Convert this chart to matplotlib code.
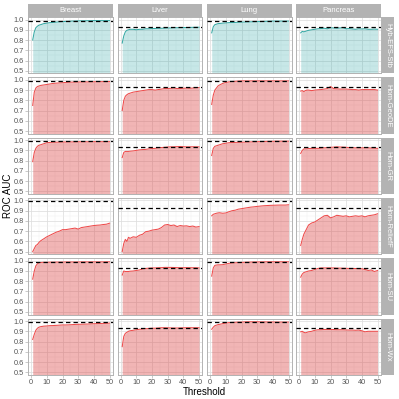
import matplotlib
matplotlib.use("Agg")
import matplotlib.pyplot as plt
import numpy as np

plt.rcParams['font.family'] = ['Liberation Sans', 'DejaVu Sans']

cancers = ["Breast", "Liver", "Lung", "Pancreas"]
methods = ["Hyb-EFS-Stb", "Hom-GeoDE", "Hom-GR", "Hom-ReliefF", "Hom-SU", "Hom-Wx"]
reference = [0.99, 0.93, 0.99, 0.93]

threshold = [1, 2, 3, 4, 5, 6, 8, 10, 12, 14, 16, 18, 20, 22, 24, 26, 28, 30, 32, 34, 36, 38, 40, 42, 44, 46, 48, 50]

# Breast
breast_efs = [0.80,0.88,0.92,0.935,0.945,0.95,0.96,0.965,0.97,0.972,0.975,0.978,0.98,0.982,0.983,0.985,0.986,0.987,0.988,0.988,0.989,0.989,0.99,0.99,0.99,0.99,0.99,0.99]
breast_geode = [0.75,0.88,0.92,0.935,0.94,0.945,0.95,0.955,0.96,0.965,0.968,0.97,0.972,0.975,0.977,0.978,0.978,0.979,0.98,0.98,0.98,0.981,0.981,0.982,0.982,0.983,0.983,0.984]
breast_gr = [0.79,0.88,0.92,0.94,0.95,0.955,0.965,0.975,0.978,0.98,0.98,0.981,0.982,0.982,0.983,0.983,0.983,0.984,0.984,0.984,0.984,0.985,0.985,0.985,0.985,0.985,0.985,0.985]
breast_relieff = [0.50,0.53,0.56,0.57,0.59,0.605,0.625,0.645,0.66,0.675,0.69,0.70,0.715,0.715,0.72,0.725,0.73,0.72,0.735,0.74,0.745,0.75,0.755,0.758,0.76,0.765,0.768,0.778]
breast_su = [0.82,0.90,0.95,0.97,0.98,0.983,0.985,0.985,0.986,0.986,0.987,0.987,0.987,0.988,0.988,0.988,0.988,0.988,0.989,0.989,0.989,0.989,0.989,0.989,0.989,0.989,0.99,0.99]
breast_wx = [0.82,0.87,0.91,0.93,0.94,0.945,0.95,0.952,0.955,0.956,0.958,0.96,0.962,0.962,0.963,0.965,0.967,0.968,0.969,0.97,0.971,0.972,0.974,0.975,0.976,0.977,0.978,0.98]

# Liver
liver_efs = [0.77,0.84,0.88,0.895,0.90,0.905,0.905,0.90,0.905,0.905,0.91,0.91,0.912,0.913,0.915,0.915,0.916,0.918,0.918,0.92,0.92,0.921,0.922,0.922,0.923,0.924,0.925,0.925]
liver_geode = [0.70,0.80,0.84,0.855,0.865,0.87,0.88,0.885,0.89,0.895,0.90,0.905,0.905,0.90,0.905,0.91,0.915,0.915,0.918,0.92,0.915,0.915,0.918,0.92,0.918,0.92,0.922,0.925]
liver_gr = [0.83,0.88,0.89,0.89,0.89,0.892,0.895,0.90,0.905,0.908,0.91,0.915,0.918,0.92,0.925,0.928,0.93,0.933,0.935,0.935,0.937,0.938,0.936,0.935,0.935,0.936,0.935,0.935]
liver_relieff = [0.50,0.58,0.62,0.60,0.64,0.63,0.645,0.64,0.66,0.67,0.695,0.70,0.71,0.715,0.72,0.735,0.76,0.765,0.755,0.76,0.745,0.755,0.75,0.752,0.745,0.75,0.74,0.745]
liver_su = [0.86,0.90,0.895,0.895,0.895,0.898,0.90,0.905,0.91,0.92,0.925,0.928,0.93,0.93,0.932,0.933,0.935,0.935,0.935,0.934,0.933,0.932,0.932,0.933,0.932,0.932,0.932,0.93]
liver_wx = [0.75,0.85,0.88,0.89,0.90,0.905,0.91,0.915,0.92,0.922,0.925,0.927,0.93,0.93,0.932,0.935,0.935,0.934,0.933,0.932,0.932,0.933,0.934,0.935,0.935,0.935,0.935,0.935]

# Lung
lung_efs = [0.87,0.93,0.95,0.955,0.96,0.962,0.965,0.967,0.97,0.971,0.972,0.974,0.975,0.976,0.977,0.978,0.979,0.98,0.981,0.982,0.983,0.984,0.985,0.985,0.985,0.985,0.985,0.985]
lung_geode = [0.76,0.85,0.90,0.92,0.94,0.95,0.965,0.975,0.98,0.984,0.986,0.988,0.99,0.99,0.99,0.99,0.99,0.99,0.99,0.99,0.99,0.99,0.99,0.99,0.99,0.99,0.99,0.99]
lung_gr = [0.85,0.92,0.94,0.945,0.95,0.955,0.965,0.97,0.975,0.977,0.978,0.979,0.98,0.981,0.982,0.983,0.984,0.985,0.986,0.987,0.988,0.988,0.989,0.99,0.99,0.99,0.99,0.99]
lung_relieff = [0.85,0.865,0.87,0.875,0.878,0.88,0.875,0.878,0.89,0.90,0.905,0.915,0.92,0.925,0.93,0.935,0.938,0.942,0.945,0.948,0.95,0.952,0.953,0.954,0.955,0.955,0.955,0.958]
lung_su = [0.85,0.93,0.955,0.958,0.96,0.96,0.962,0.968,0.975,0.978,0.98,0.982,0.984,0.985,0.986,0.987,0.988,0.988,0.989,0.989,0.99,0.99,0.99,0.99,0.99,0.99,0.99,0.99]
lung_wx = [0.92,0.94,0.955,0.96,0.965,0.968,0.975,0.98,0.985,0.987,0.988,0.99,0.99,0.992,0.993,0.993,0.993,0.993,0.992,0.992,0.991,0.991,0.991,0.99,0.99,0.99,0.99,0.99]

# Pancreas
pancreas_efs = [0.87,0.885,0.88,0.885,0.89,0.895,0.90,0.905,0.91,0.912,0.915,0.91,0.92,0.918,0.915,0.918,0.92,0.91,0.912,0.908,0.905,0.91,0.908,0.91,0.905,0.905,0.907,0.905]
pancreas_geode = [0.89,0.895,0.885,0.895,0.90,0.90,0.895,0.90,0.903,0.905,0.91,0.915,0.935,0.915,0.912,0.91,0.91,0.91,0.908,0.905,0.905,0.90,0.905,0.905,0.905,0.905,0.905,0.90]
pancreas_gr = [0.87,0.90,0.915,0.915,0.915,0.918,0.92,0.92,0.92,0.922,0.925,0.927,0.93,0.932,0.935,0.933,0.932,0.93,0.928,0.926,0.925,0.925,0.925,0.925,0.925,0.923,0.922,0.92]
pancreas_relieff = [0.56,0.62,0.67,0.70,0.73,0.76,0.78,0.79,0.81,0.83,0.85,0.855,0.83,0.84,0.855,0.85,0.845,0.85,0.84,0.845,0.85,0.845,0.85,0.84,0.85,0.855,0.86,0.87]
pancreas_su = [0.84,0.87,0.885,0.89,0.895,0.90,0.905,0.915,0.925,0.93,0.93,0.93,0.93,0.93,0.928,0.928,0.927,0.926,0.925,0.925,0.924,0.923,0.922,0.915,0.905,0.91,0.895,0.905]
pancreas_wx = [0.895,0.90,0.89,0.885,0.89,0.895,0.90,0.91,0.915,0.915,0.918,0.918,0.918,0.917,0.915,0.915,0.915,0.913,0.912,0.912,0.91,0.912,0.905,0.895,0.90,0.90,0.90,0.90]

series = {
    "Breast": [breast_efs, breast_geode, breast_gr, breast_relieff, breast_su, breast_wx],
    "Liver": [liver_efs, liver_geode, liver_gr, liver_relieff, liver_su, liver_wx],
    "Lung": [lung_efs, lung_geode, lung_gr, lung_relieff, lung_su, lung_wx],
    "Pancreas": [pancreas_efs, pancreas_geode, pancreas_gr, pancreas_relieff, pancreas_su, pancreas_wx],
}

W = H = 399
fig = plt.figure(figsize=(W / 100, H / 100), dpi=100)
fig.patch.set_facecolor("white")

col_left = [28, 117.5, 207, 296]
pw = 84.7
top0 = 17
ph = 56.3
gap = 4.0

def rect(x, y, w, h):
    return [x / W, 1 - (y + h) / H, w / W, h / H]

teal_line = "#35A8A4"
teal_fill = (0.0, 0.59, 0.59, 0.22)
red_line = "#EE4B4B"
red_fill = (0.86, 0.24, 0.24, 0.38)
border = "#B3B3B3"
tickc = "#555555"

for j, cancer in enumerate(cancers):
    for i, method in enumerate(methods):
        y0 = top0 + i * (ph + gap)
        ax = fig.add_axes(rect(col_left[j], y0, pw, ph))
        ax.set_xlim(-2.0, 52.0)
        ax.set_ylim(0.475, 1.025)
        ax.set_xticks([0, 10, 20, 30, 40, 50])
        ax.set_xticks([5, 15, 25, 35, 45], minor=True)
        ax.set_yticks([0.5, 0.6, 0.7, 0.8, 0.9, 1.0])
        ax.set_yticks([0.55, 0.65, 0.75, 0.85, 0.95], minor=True)
        ax.grid(which="major", color="#DEDEDE", lw=0.55, zorder=0)
        ax.grid(which="minor", color="#F0F0F0", lw=0.35, zorder=0)
        ax.set_axisbelow(True)
        vals = series[cancer][i]
        if i == 0:
            lc, fc = teal_line, teal_fill
        else:
            lc, fc = red_line, red_fill
        ax.fill_between(threshold, 0, vals, color=fc, lw=0, zorder=1)
        ax.plot(threshold, vals, color=lc, lw=0.75, zorder=3)
        ax.axhline(reference[j], color="black", lw=0.9, ls=(0, (3.5, 2.5)), zorder=4)
        for s in ax.spines.values():
            s.set_color(border)
            s.set_linewidth(0.7)
        ax.tick_params(which="major", length=2, width=0.5, color=border,
                       labelsize=5.3, labelcolor=tickc, pad=1.2)
        ax.tick_params(which="minor", length=0)
        if j == 0:
            ax.set_yticklabels(["0.5", "0.6", "0.7", "0.8", "0.9", "1.0"])
        else:
            ax.tick_params(axis="y", which="major", labelleft=False, length=0)
        if i == len(methods) - 1:
            ax.set_xticklabels(["0", "10", "20", "30", "40", "50"])
        else:
            ax.tick_params(axis="x", which="major", labelbottom=False, length=0)

        # row strip
        if j == len(cancers) - 1:
            sax = fig.add_axes(rect(381.5, y0, 12.5, ph))
            sax.set_facecolor("#B3B3B3")
            sax.set_xticks([]); sax.set_yticks([])
            for s in sax.spines.values():
                s.set_visible(False)
            sax.text(0.5, 0.5, method, rotation=-90, ha="center", va="center",
                     color="white", fontsize=5.5, transform=sax.transAxes)

    # column strip
    cax = fig.add_axes(rect(col_left[j], 4, pw, 13))
    cax.set_facecolor("#B3B3B3")
    cax.set_xticks([]); cax.set_yticks([])
    for s in cax.spines.values():
        s.set_visible(False)
    cax.text(0.5, 0.5, cancer, ha="center", va="center", color="white",
             fontsize=5.5, transform=cax.transAxes)

fig.text(8 / W, 1 - 196 / H, "ROC AUC", rotation=90, ha="center", va="center",
         fontsize=7, color="black")
fig.text(204.5 / W, 1 - 392 / H, "Threshold", ha="center", va="center",
         fontsize=7, color="black")

fig.savefig("out.png", dpi=100, facecolor="white")
